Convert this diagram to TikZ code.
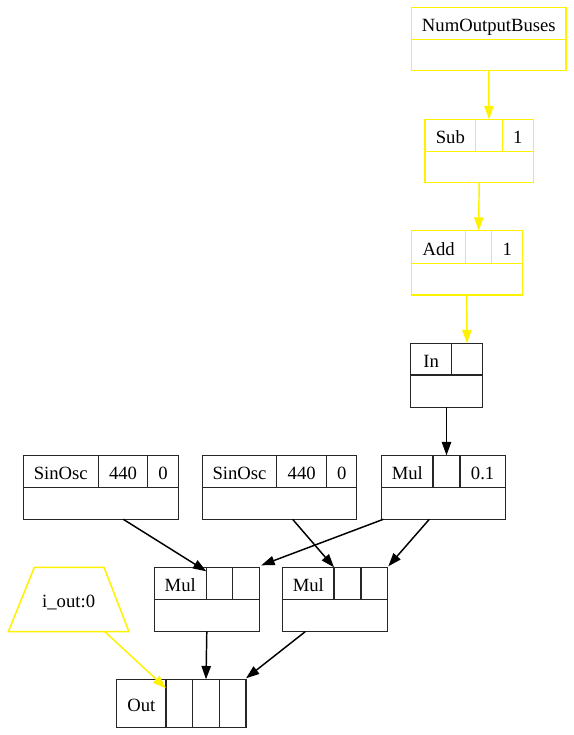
\documentclass[tikz,border=0pt]{standalone}
\usepackage{fontspec}
\setmainfont{Liberation Serif}
\usetikzlibrary{arrows.meta,calc}
\newcommand\rcell[7]{%
  \pgfmathsetmacro\rcw{(#4-#2)*0.75}%
  \pgfmathsetmacro\rch{(#5-#3)*0.75}%
  \node[cellbox,#7,minimum width=\rcw pt,minimum height=\rch pt] (#1) at ({(#2+#4)/2},{(#3+#5)/2}) {#6};}
\tikzset{
  txt/.style={font=\fontsize{14}{16}\selectfont,text=black,text height=12pt,text depth=0pt},
  cellbox/.style={draw,rectangle,inner sep=0pt,outer sep=0pt,line width=1.15pt,txt},
  ylw/.style={draw=yellow},
  blk/.style={draw=black!85},
  edge/.style={line width=1.1pt,-{Triangle[length=10pt,width=7pt]}},
  yedge/.style={edge,draw=yellow,fill=yellow},
  bedge/.style={edge,draw=black,fill=black}
}
\begin{document}
\begin{tikzpicture}[x=0.75pt,y=-0.75pt]
\useasboundingbox (0,0) rectangle (574,735);
% NumOutputBuses
\rcell{numt}{411.7}{7.3}{566}{39.3}{NumOutputBuses}{ylw}
\rcell{numb}{411.7}{39.3}{566}{70.7}{}{ylw}
% Sub
\rcell{subl}{425}{119.3}{475.7}{151.7}{Sub}{ylw}
\rcell{subp1}{475.7}{119.3}{502.3}{151.7}{}{ylw}
\rcell{subp2}{502.3}{119.3}{533.3}{151.7}{1}{ylw}
\rcell{subb}{425}{151.7}{533.3}{182.7}{}{ylw}
% Add
\rcell{addl}{411.7}{230.7}{465.7}{263.3}{Add}{ylw}
\rcell{addp1}{465.7}{230.7}{491.7}{263.3}{}{ylw}
\rcell{addp2}{491.7}{230.7}{522.7}{263.3}{1}{ylw}
\rcell{addb}{411.7}{263.3}{522.7}{295}{}{ylw}
% In
\rcell{inl}{410.7}{343.3}{451.7}{375}{In}{blk}
\rcell{inp1}{451.7}{343.3}{482.3}{375}{}{blk}
\rcell{inb}{410.7}{375}{482.3}{407.3}{}{blk}
% Mul 0.1
\rcell{mull}{381.7}{455.3}{433}{487.3}{Mul}{blk}
\rcell{mulp1}{433}{455.3}{460}{487.3}{}{blk}
\rcell{mulp2}{460}{455.3}{505.3}{487.3}{0.1}{blk}
\rcell{mulb}{381.7}{487.3}{505.3}{519.3}{}{blk}
% SinOsc 1
\rcell{sal}{23.3}{455.3}{98.3}{487.3}{SinOsc}{blk}
\rcell{sap1}{98.3}{455.3}{147.7}{487.3}{440}{blk}
\rcell{sap2}{147.7}{455.3}{178.3}{487.3}{0}{blk}
\rcell{sab}{23.3}{487.3}{178.3}{519.3}{}{blk}
% SinOsc 2
\rcell{sbl}{202.3}{455.3}{276.7}{487.3}{SinOsc}{blk}
\rcell{sbp1}{276.7}{455.3}{326.7}{487.3}{440}{blk}
\rcell{sbp2}{326.7}{455.3}{356.7}{487.3}{0}{blk}
\rcell{sbb}{202.3}{487.3}{356.7}{519.3}{}{blk}
% Mul 1
\rcell{maL}{154.3}{567.3}{206.3}{599.3}{Mul}{blk}
\rcell{map1}{206.3}{567.3}{232.7}{599.3}{}{blk}
\rcell{map2}{232.7}{567.3}{259.3}{599.3}{}{blk}
\rcell{mab}{154.3}{599.3}{259.3}{631.7}{}{blk}
% Mul 2
\rcell{mbL}{282.7}{567.3}{334}{599.3}{Mul}{blk}
\rcell{mbp1}{334}{567.3}{361}{599.3}{}{blk}
\rcell{mbp2}{361}{567.3}{387.3}{599.3}{}{blk}
\rcell{mbb}{282.7}{599.3}{387.3}{631.7}{}{blk}
% Out
\rcell{outl}{116.7}{679.3}{166}{727.3}{Out}{blk}
\rcell{outp1}{166}{679.3}{192.7}{727.3}{}{blk}
\rcell{outp2}{192.7}{679.3}{219.3}{727.3}{}{blk}
\rcell{outp3}{219.3}{679.3}{246}{727.3}{}{blk}
% i_out:0 (trapezium drawn from its node box)
\node[rectangle,inner sep=0pt,outer sep=0pt,minimum width=90.5pt,minimum height=48.3pt,txt]
  (iout) at (68.65,599.5) {i\_out:0};
\draw[yellow,line width=1.15pt,line join=miter] (iout.south west) -- (iout.south east)
  -- ($(iout.north east)+(-25,0)$) -- ($(iout.north west)+(26,0)$) -- cycle;
% edges
\draw[yedge] (numb.south) -- (subp1.north);
\draw[yedge] (subb.south) -- (addp1.north);
\draw[yedge] ($(addb.south west)!0.495!(addb.south east)$) -- (inp1.north);
\draw[bedge] (inb.south) -- (mulp1.north);
\draw[bedge] ($(sab.south west)!0.645!(sab.south east)$) -- ($(map1.north west)+(0,4)$);
\draw[bedge] ($(mulb.south west)!0.013!(mulb.south east)$) -- ($(map2.north east)+(2,-2)$);
\draw[bedge] ($(sbb.south west)!0.585!(sbb.south east)$) -- (mbp1.north west);
\draw[bedge] ($(mulb.south west)!0.385!(mulb.south east)$) -- ($(mbp2.north east)+(1,-1)$);
\draw[bedge] (mab.south) -- (outp2.north);
\draw[bedge] ($(mbb.south west)!0.215!(mbb.south east)$) -- ($(outp3.north east)+(0,-1)$);
\draw[yedge] ($(iout.south east)!0.2!(iout.south west)$) -- ($(outp1.north west)+(0,9)$);
\end{tikzpicture}
\end{document}
